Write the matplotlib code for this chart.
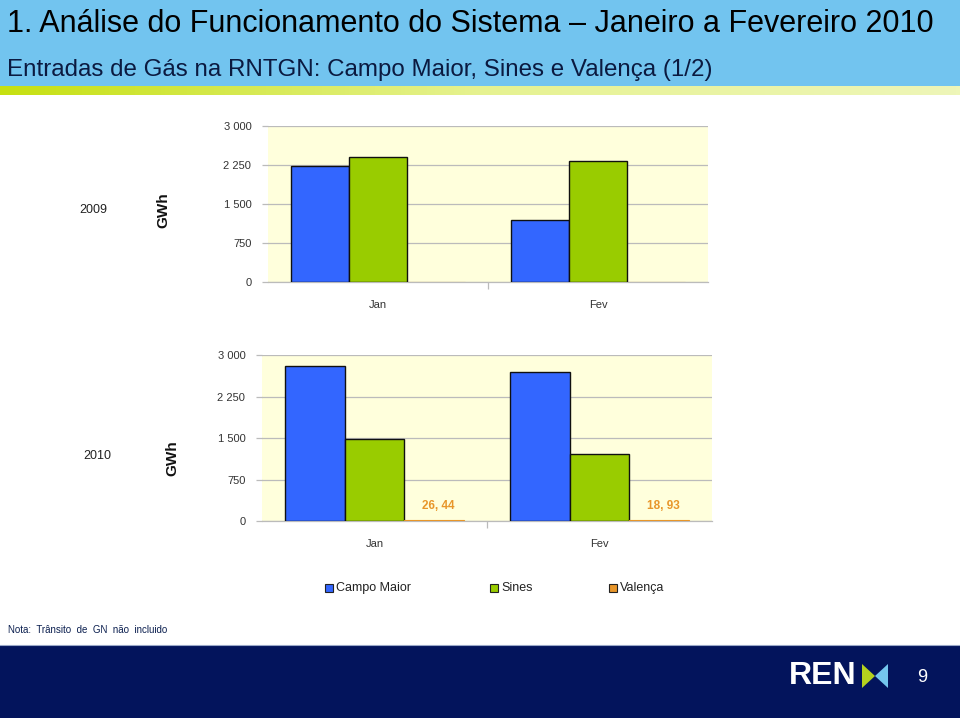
import matplotlib
matplotlib.use("Agg")
import matplotlib.pyplot as plt
import numpy as np
from matplotlib.patches import Rectangle, Polygon
from matplotlib.lines import Line2D
from matplotlib.colors import LinearSegmentedColormap

# ---------------- data ----------------
categories = ["Jan", "Fev"]
series_names = ["Campo Maior", "Sines", "Valença"]
v2009_campo = [2235, 1185]
v2009_sines = [2400, 2318]
v2009_valenca = [0, 0]
v2010_campo = [2800, 2693]
v2010_sines = [1488, 1205]
v2010_valenca = [26.44, 18.93]
valenca_labels_2010 = ["26, 44", "18, 93"]
yticks = [0, 750, 1500, 2250, 3000]
ytick_labels = ["0", "750", "1 500", "2 250", "3 000"]
title = "1. Análise do Funcionamento do Sistema – Janeiro a Fevereiro 2010"
subtitle = "Entradas de Gás na RNTGN: Campo Maior, Sines e Valença (1/2)"
note = "Nota:  Trânsito  de  GN  não  incluido"

colors = ["#3366FF", "#99CC00", "#E8962A"]

W, H = 960, 718
fig = plt.figure(figsize=(W / 100, H / 100), dpi=100)
plt.rcParams["font.family"] = ["Liberation Sans", "DejaVu Sans"]


def fx(x):
    return x / W


def fy(y):
    return 1 - y / H


# ---------------- header ----------------
fig.patches.append(Rectangle((0, fy(86)), 1, 86 / H, transform=fig.transFigure,
                             facecolor="#72C4EF", edgecolor="none", zorder=0))
grad_ax = fig.add_axes([0, fy(95), 1, 9 / H])
grad = np.linspace(0, 1, 256).reshape(1, -1)
cmap = LinearSegmentedColormap.from_list("g", ["#C6E010", "#E6F290", "#EEF6B8"])
grad_ax.imshow(grad, aspect="auto", cmap=cmap, extent=[0, 1, 0, 1])
grad_ax.axis("off")

fig.text(fx(7), fy(24), title, fontsize=22, color="#000000",
         va="center", ha="left")
fig.text(fx(7), fy(70), subtitle, fontsize=17.4, color="#0B1A40",
         va="center", ha="left")

# ---------------- footer ----------------
fig.patches.append(Rectangle((0, 0), 1, fy(645), transform=fig.transFigure,
                             facecolor="#03145C", edgecolor="none", zorder=0))
fig.lines.append(Line2D([0, 1], [fy(645), fy(645)], transform=fig.transFigure,
                        color="#9AA8C8", linewidth=0.8))
fig.text(fx(8), fy(630), note, fontsize=7, color="#0B1F4F", va="center", ha="left")
fig.text(fx(789), fy(676), "REN", fontsize=23, fontweight="bold", color="white",
         va="center", ha="left")
fig.patches.append(Polygon([(fx(862), fy(664)), (fx(862), fy(688)), (fx(875), fy(676))],
                           closed=True, transform=fig.transFigure,
                           facecolor="#B5D21E", edgecolor="none"))
fig.patches.append(Polygon([(fx(888), fy(664)), (fx(888), fy(688)), (fx(875), fy(676))],
                           closed=True, transform=fig.transFigure,
                           facecolor="#74C6EE", edgecolor="none"))
fig.text(fx(922), fy(678), "9", fontsize=13, color="white", va="center", ha="center")


# ---------------- charts ----------------
def make_chart(box, vals, year, year_pos, gwh_pos, val_labels=None):
    x0, y0, x1, y1 = box
    ax = fig.add_axes([fx(x0), fy(y1), (x1 - x0) / W, (y1 - y0) / H])
    ax.set_facecolor("#FFFFDC")
    x = np.arange(len(categories))
    w = 0.264
    for i, (v, c) in enumerate(zip(vals, colors)):
        if i == 2:
            ax.bar(x + (i - 1) * w, v, w, color=c, edgecolor=c, linewidth=0.8,
                   zorder=3)
        else:
            ax.bar(x + (i - 1) * w, v, w, color=c, edgecolor="#101010",
                   linewidth=1.0, zorder=3)
        if i == 2 and val_labels is not None:
            for xi, lab in zip(x, val_labels):
                ax.text(xi + w + 0.02, 265, lab, ha="center", va="center", fontsize=8.5,
                        fontweight="bold", color="#E8962A", zorder=4)
    ax.set_xlim(-0.5, len(categories) - 0.5)
    ax.set_ylim(0, 3000)
    ax.set_yticks(yticks)
    ax.set_yticklabels(ytick_labels)
    ax.yaxis.grid(True, color="#BBBBBB", linewidth=0.9, zorder=0)
    ax.set_axisbelow(True)
    ax.set_xticks(x)
    ax.set_xticklabels(categories)
    ax.set_xticks([0.5], minor=True)
    ax.tick_params(axis="x", which="major", length=0, pad=13, labelsize=8,
                   labelcolor="#333333")
    ax.tick_params(axis="x", which="minor", length=5, color="#BBBBBB", width=0.9)
    ax.tick_params(axis="y", length=4, color="#BBBBBB", width=0.9, pad=8,
                   labelsize=8, labelcolor="#333333")
    for s in ["left", "right", "top"]:
        ax.spines[s].set_visible(False)
    ax.spines["bottom"].set_color("#BBBBBB")
    ax.spines["bottom"].set_linewidth(0.9)
    fig.text(fx(year_pos[0]), fy(year_pos[1]), year, fontsize=9, color="#222222",
             ha="center", va="center")
    fig.text(fx(gwh_pos[0]), fy(gwh_pos[1]), "GWh", fontsize=11, fontweight="bold",
             rotation=90, ha="center", va="center", color="#111111")
    return ax


make_chart((268, 126, 708, 282), [v2009_campo, v2009_sines, v2009_valenca], "2009",
           (93, 210), (163, 210))
make_chart((262, 355, 712, 521), [v2010_campo, v2010_sines, v2010_valenca], "2010",
           (97, 456), (172, 458), valenca_labels_2010)

# ---------------- legend (manual, uneven spacing as in reference) ----------------
legend_x = [325, 490, 609]
for lx, name, c in zip(legend_x, series_names, colors):
    fig.patches.append(Rectangle((fx(lx), fy(592)), 8 / W, 8 / H,
                                 transform=fig.transFigure, facecolor=c,
                                 edgecolor="#222222", linewidth=0.8))
    fig.text(fx(lx + 11), fy(588), name, fontsize=9, color="#222222",
             ha="left", va="center")

fig.savefig("out.png", dpi=100)
